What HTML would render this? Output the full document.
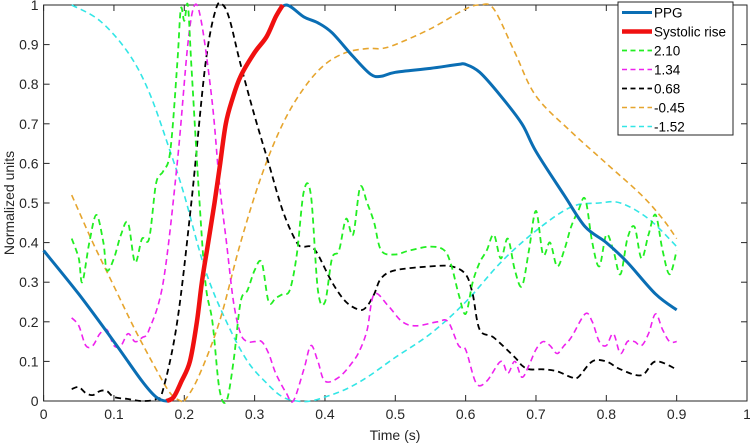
<!DOCTYPE html>
<html><head><meta charset="utf-8"><style>
body{margin:0;background:#fff}
svg{display:block;font-family:"Liberation Sans",sans-serif}
</style></head><body>
<svg id="c" width="750" height="446"></svg>
<script>
const ppgX=[0,0.05,0.1,0.14,0.16,0.175,0.185,0.196,0.208,0.218,0.225,0.234,0.243,0.251,0.259,0.268,0.28,0.3,0.317,0.33,0.345,0.37,0.39,0.41,0.44,0.465,0.48,0.5,0.55,0.59,0.6,0.62,0.65,0.68,0.7,0.74,0.77,0.8,0.83,0.87,0.9];
const ppgY=[0.38,0.27,0.15,0.05,0.01,0,0.01,0.05,0.1,0.2,0.3,0.4,0.5,0.6,0.7,0.76,0.82,0.88,0.92,0.97,1.0,0.97,0.955,0.93,0.87,0.825,0.82,0.83,0.84,0.85,0.85,0.83,0.77,0.7,0.63,0.52,0.44,0.4,0.35,0.27,0.23];
const sysX=[0.175,0.185,0.196,0.208,0.218,0.225,0.234,0.243,0.251,0.259,0.268,0.28,0.3,0.317,0.33,0.34];
const sysY=[0,0.01,0.05,0.1,0.2,0.3,0.4,0.5,0.6,0.7,0.76,0.82,0.88,0.92,0.97,1.0];
const gX=[0.04,0.05,0.055,0.065,0.075,0.085,0.09,0.1,0.11,0.12,0.13,0.14,0.15,0.16,0.17,0.18,0.19,0.195,0.2,0.205,0.21,0.22,0.23,0.24,0.25,0.26,0.27,0.28,0.29,0.3,0.31,0.32,0.33,0.34,0.35,0.36,0.37,0.38,0.39,0.4,0.41,0.42,0.43,0.44,0.45,0.46,0.47,0.48,0.5,0.52,0.55,0.57,0.58,0.59,0.6,0.61,0.62,0.63,0.64,0.65,0.66,0.67,0.68,0.69,0.7,0.71,0.72,0.73,0.74,0.75,0.76,0.77,0.78,0.79,0.8,0.81,0.82,0.83,0.84,0.85,0.86,0.87,0.88,0.89,0.9];
const gY=[0.41,0.36,0.30,0.40,0.47,0.40,0.33,0.36,0.42,0.45,0.35,0.41,0.41,0.55,0.58,0.63,0.85,0.99,0.96,1.0,0.85,0.55,0.3,0.2,0.03,0.0,0.1,0.25,0.28,0.33,0.35,0.25,0.26,0.27,0.28,0.37,0.53,0.52,0.28,0.25,0.36,0.38,0.46,0.42,0.54,0.5,0.45,0.38,0.37,0.38,0.39,0.38,0.34,0.27,0.22,0.3,0.35,0.38,0.42,0.36,0.41,0.33,0.29,0.38,0.48,0.37,0.4,0.34,0.38,0.44,0.48,0.51,0.4,0.34,0.42,0.38,0.32,0.41,0.44,0.36,0.42,0.47,0.38,0.32,0.38];
const mX=[0.04,0.05,0.06,0.07,0.08,0.09,0.1,0.11,0.12,0.13,0.14,0.15,0.17,0.19,0.205,0.215,0.225,0.24,0.25,0.26,0.27,0.28,0.29,0.3,0.31,0.32,0.33,0.345,0.355,0.37,0.38,0.39,0.4,0.42,0.44,0.45,0.46,0.47,0.49,0.51,0.53,0.56,0.575,0.59,0.6,0.615,0.63,0.65,0.66,0.67,0.68,0.69,0.7,0.71,0.72,0.73,0.74,0.75,0.77,0.78,0.79,0.8,0.81,0.82,0.83,0.84,0.85,0.86,0.87,0.88,0.89,0.9];
const mY=[0.21,0.19,0.14,0.14,0.17,0.18,0.14,0.14,0.17,0.15,0.16,0.18,0.3,0.6,0.9,1.0,0.95,0.75,0.55,0.4,0.25,0.17,0.15,0.15,0.15,0.12,0.07,0.02,0.0,0.08,0.14,0.1,0.05,0.06,0.1,0.13,0.18,0.27,0.24,0.2,0.19,0.2,0.2,0.14,0.13,0.045,0.05,0.1,0.07,0.1,0.06,0.09,0.13,0.15,0.14,0.12,0.14,0.16,0.22,0.2,0.15,0.14,0.17,0.12,0.15,0.15,0.14,0.17,0.22,0.18,0.15,0.15];
const kX=[0.04,0.05,0.06,0.07,0.08,0.09,0.1,0.12,0.14,0.16,0.17,0.19,0.21,0.23,0.245,0.255,0.265,0.28,0.3,0.32,0.34,0.36,0.37,0.38,0.39,0.41,0.43,0.45,0.46,0.47,0.48,0.5,0.55,0.58,0.6,0.61,0.62,0.64,0.67,0.68,0.69,0.71,0.73,0.75,0.76,0.78,0.8,0.82,0.85,0.87,0.9];
const kY=[0.03,0.035,0.02,0.015,0.025,0.025,0.01,0.005,0.0,0.005,0.03,0.2,0.5,0.85,0.99,1.0,0.96,0.85,0.72,0.6,0.48,0.4,0.39,0.39,0.37,0.3,0.25,0.23,0.24,0.27,0.31,0.33,0.34,0.34,0.32,0.27,0.18,0.16,0.11,0.09,0.08,0.08,0.075,0.06,0.06,0.1,0.1,0.08,0.065,0.1,0.08];
const oX=[0.04,0.07,0.1,0.13,0.16,0.18,0.195,0.2,0.22,0.25,0.28,0.31,0.34,0.37,0.4,0.43,0.46,0.48,0.5,0.55,0.6,0.62,0.64,0.67,0.7,0.75,0.8,0.85,0.88,0.9];
const oY=[0.52,0.4,0.29,0.18,0.08,0.02,0.0,0.0,0.06,0.2,0.4,0.57,0.7,0.79,0.85,0.88,0.89,0.89,0.9,0.94,0.99,1.0,0.99,0.88,0.77,0.68,0.6,0.52,0.46,0.41];
const cX=[0.04,0.08,0.12,0.15,0.18,0.2,0.23,0.26,0.29,0.32,0.34,0.36,0.38,0.4,0.43,0.46,0.5,0.55,0.6,0.65,0.7,0.75,0.79,0.82,0.86,0.9];
const cY=[1.0,0.96,0.88,0.78,0.63,0.52,0.33,0.2,0.1,0.04,0.01,0.0,0.0,0.01,0.03,0.06,0.11,0.17,0.25,0.35,0.43,0.49,0.5,0.5,0.46,0.39];
const xTicks=[0,0.1,0.2,0.3,0.4,0.5,0.6,0.7,0.8,0.9,1];
const yTicks=[0,0.1,0.2,0.3,0.4,0.5,0.6,0.7,0.8,0.9,1];
const L=43.6,R=747,T=5,B=401;
const sx=v=>L+v*(R-L), sy=v=>B-v*(B-T);
const svg=document.getElementById('c');
const NS='http://www.w3.org/2000/svg';
function mk(tag,attrs,parent){const e=document.createElementNS(NS,tag);for(const k in attrs)e.setAttribute(k,attrs[k]);(parent||svg).appendChild(e);return e;}
function smooth(xs,ys){
 const P=xs.map((v,i)=>[sx(v),sy(ys[i])]);
 let d='M'+P[0][0].toFixed(1)+','+P[0][1].toFixed(1);
 for(let i=0;i<P.length-1;i++){
  const p0=P[i-1]||P[i],p1=P[i],p2=P[i+1],p3=P[i+2]||p2;
  const c1=[p1[0]+(p2[0]-p0[0])/6,p1[1]+(p2[1]-p0[1])/6];
  const c2=[p2[0]-(p3[0]-p1[0])/6,p2[1]-(p3[1]-p1[1])/6];
  d+='C'+c1.map(n=>n.toFixed(1)).join(',')+' '+c2.map(n=>n.toFixed(1)).join(',')+' '+p2[0].toFixed(1)+','+p2[1].toFixed(1);
 }
 return d;
}
const ax=mk('rect',{x:L,y:T,width:R-L,height:B-T,fill:'#fff',stroke:'#262626','stroke-width':1});


const gt=mk('g',{'font-size':14,fill:'#262626'});


xTicks.forEach(v=>{const x=sx(v);
 mk('line',{x1:x,x2:x,y1:B,y2:B-6,stroke:'#262626'},gt);
 mk('line',{x1:x,x2:x,y1:T,y2:T+6,stroke:'#262626'},gt);
 const t=mk('text',{x:x,y:B+18,'text-anchor':'middle'},gt);t.textContent=String(v);
 
 });
yTicks.forEach(v=>{const y=sy(v);
 mk('line',{x1:L,x2:L+6,y1:y,y2:y,stroke:'#262626'},gt);
 mk('line',{x1:R,x2:R-6,y1:y,y2:y,stroke:'#262626'},gt);
 const t=mk('text',{x:L-5,y:y+5,'text-anchor':'end'},gt);t.textContent=String(v);
 
 });
const xt=mk('text',{x:395,y:440,'text-anchor':'middle','font-size':14,fill:'#262626'});xt.textContent='Time (s)';


const yt=mk('text',{x:0,y:0,'text-anchor':'middle','font-size':14,fill:'#262626',transform:'translate(14,203) rotate(-90)'});yt.textContent='Normalized units';


const series=[
 {x:cX,y:cY,c:'#33e6e6',w:1.6,d:'6,4',n:'-1.52',id:'series-cyan'},
 {x:oX,y:oY,c:'#e6a52e',w:1.6,d:'6,4',n:'-0.45',id:'series-orange'},
 {x:kX,y:kY,c:'#000',w:1.8,d:'6,4',n:'0.68',id:'series-black'},
 {x:mX,y:mY,c:'#ee22ee',w:1.6,d:'6,4',n:'1.34',id:'series-magenta'},
 {x:gX,y:gY,c:'#22ee22',w:1.8,d:'6,4',n:'2.10',id:'series-green'},
 {x:ppgX,y:ppgY,c:'#0a6eb4',w:3,d:'',n:'PPG',id:'series-ppg'},
 {x:sysX,y:sysY,c:'#f01010',w:4.5,d:'',n:'Systolic rise',id:'series-systolic'}];
series.forEach(s=>{
 const p=mk('path',{d:smooth(s.x,s.y),fill:'none',stroke:s.c,'stroke-width':s.w,'stroke-dasharray':s.d||'none','stroke-linejoin':'round','stroke-linecap':'butt'});
 
 });
const lg=mk('g',{});


mk('rect',{x:618,y:2,width:115,height:133,fill:'#fff',stroke:'#262626','stroke-width':1},lg);
const order=[5,6,4,3,2,1,0];
order.forEach((k,i)=>{const s=series[k];const y=12.5+i*19;
 mk('line',{x1:622,x2:652,y1:y,y2:y,stroke:s.c,'stroke-width':s.w,'stroke-dasharray':s.d?'5,3.5':'none'},lg);
 const t=mk('text',{x:654,y:y+5,'font-size':13.5,fill:'#000'},lg);t.textContent=s.n;
 
 });
</script>
</body></html>
